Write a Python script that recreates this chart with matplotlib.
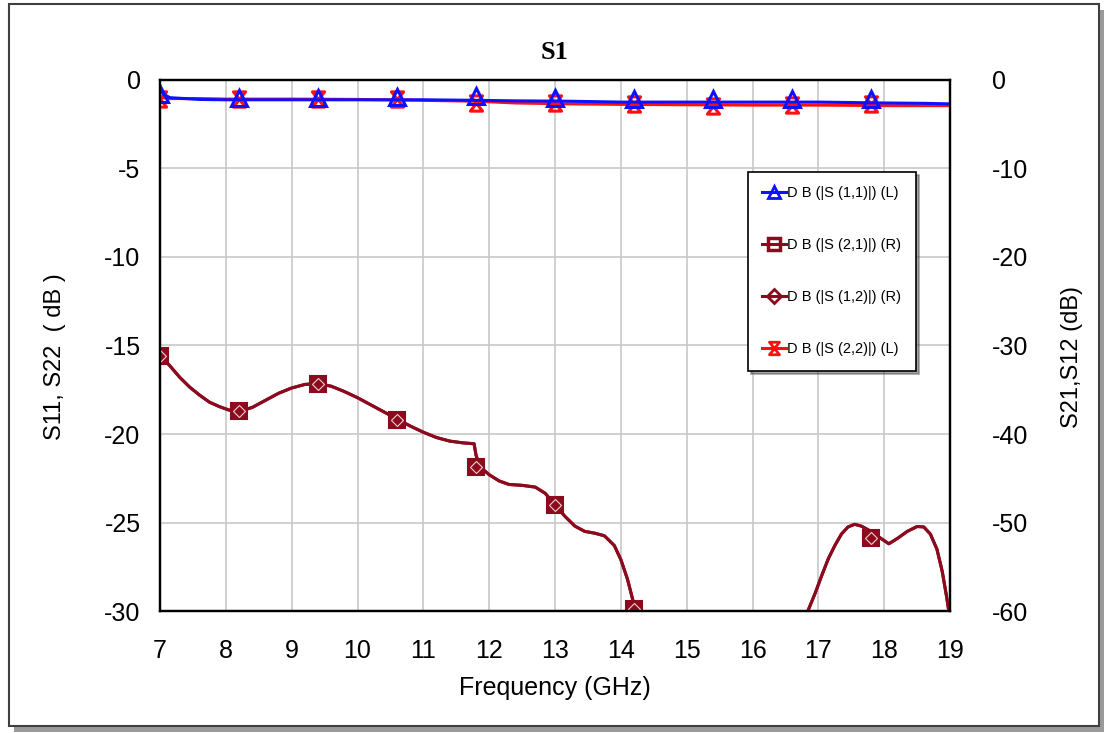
import matplotlib
matplotlib.use('Agg')
import matplotlib.pyplot as plt
from matplotlib.path import Path
from matplotlib.lines import Line2D
from matplotlib.patches import Rectangle

plt.rcParams['font.family'] = ['Liberation Sans', 'DejaVu Sans']
plt.rcParams['axes.unicode_minus'] = False

# left axis: S11 / S22 (dB)
freq_top = [7.0, 7.05, 7.15, 7.6, 8.0, 9.0, 10.0, 11.0, 11.8, 12.4, 13.2, 14.0, 15.0, 16.0, 17.0, 18.0, 18.6, 19.0]
s11 = [-0.5, -0.8, -1.0, -1.1, -1.12, -1.12, -1.12, -1.12, -1.15, -1.18, -1.2, -1.25, -1.25, -1.25, -1.25, -1.3, -1.32, -1.35]
s22 = [-0.9, -1.0, -1.05, -1.05, -1.08, -1.08, -1.1, -1.15, -1.2, -1.3, -1.35, -1.38, -1.4, -1.42, -1.42, -1.45, -1.45, -1.45]

# right axis: S21 / S12 (dB)
freq_s21 = [7.0, 7.15, 7.3, 7.45, 7.6, 7.75, 7.9, 8.05, 8.22, 8.4, 8.6, 8.8, 9.0, 9.2, 9.4, 9.6, 9.8,
            10.0, 10.2, 10.4, 10.6, 10.8, 11.0, 11.2, 11.4, 11.6, 11.77, 11.8, 11.86, 12.0, 12.15, 12.3,
            12.5, 12.7, 12.85, 13.0, 13.15, 13.3, 13.45, 13.6, 13.75, 13.9, 14.0, 14.1, 14.2, 14.3,
            14.6, 15.0, 15.5, 15.9, 16.3, 16.7, 16.84, 16.95, 17.05, 17.15, 17.25, 17.35, 17.45, 17.55,
            17.65, 17.8, 17.95, 18.07, 18.2, 18.35, 18.5, 18.6, 18.7, 18.8, 18.88, 18.95, 19.0]
s21 = [-31.1, -32.3, -33.6, -34.7, -35.6, -36.4, -36.9, -37.3, -37.4, -37.0, -36.2, -35.4, -34.8, -34.4, -34.3, -34.6, -35.2,
       -35.9, -36.7, -37.5, -38.3, -39.1, -39.8, -40.4, -40.8, -41.0, -41.1, -42.4, -43.7, -44.6, -45.3, -45.7,
       -45.8, -46.0, -46.7, -48.0, -49.3, -50.4, -51.0, -51.2, -51.5, -52.6, -54.2, -56.4, -59.3, -62.5,
       -65.0, -66.0, -64.0, -61.0, -64.0, -61.5, -60.0, -58.0, -56.0, -54.1, -52.6, -51.3, -50.5, -50.2,
       -50.4, -51.0, -51.8, -52.4, -51.8, -51.0, -50.45, -50.5, -51.3, -53.0, -55.5, -58.5, -61.0]
s12 = s21  # reciprocal, curves coincide

mk_freq = [7.0, 8.2, 9.4, 10.6, 11.8, 13.0, 14.2, 15.4, 16.6, 17.8]
s11_mk = [-0.8, -1.0, -1.0, -0.95, -0.9, -1.0, -1.05, -1.1, -1.05, -1.05]
s22_mk = [-1.05, -1.1, -1.1, -1.1, -1.3, -1.3, -1.35, -1.45, -1.4, -1.35]
s21_mk = [-31.2, -37.4, -34.3, -38.4, -43.7, -48.0, -59.8, -64.5, -62.0, -51.7]

xticks = list(range(7, 20))

hourglass = Path([(-0.8, 1), (0.8, 1), (-0.8, -1), (0.8, -1), (-0.8, 1)],
                 [Path.MOVETO, Path.LINETO, Path.LINETO, Path.LINETO, Path.CLOSEPOLY])

BLUE = '#1010ff'
RED = '#ff1010'
DRED = '#8b0a1e'

fig = plt.figure(figsize=(11.09, 7.33), dpi=100)

# outer frame with shadow
fig.patches.append(Rectangle((14 / 1109, 0.002), 1090 / 1109, 722 / 733, transform=fig.transFigure,
                             facecolor='#9a9a9a', edgecolor='none', zorder=-2))
fig.patches.append(Rectangle((9 / 1109, 7 / 733), 1090 / 1109, 722 / 733, transform=fig.transFigure,
                             facecolor='white', edgecolor='#404040', lw=1.5, zorder=-1))

ax = fig.add_axes([0.1443, 0.1664, 0.7124, 0.7245])
ax2 = ax.twinx()

ax.plot(freq_top, s22, color=RED, lw=2.2, zorder=3)
ax.plot(mk_freq, s22_mk, ls='none', marker=hourglass, ms=11, mfc='none', mec=RED, mew=2.2, zorder=3)
ax.plot(freq_top, s11, color=BLUE, lw=2.2, zorder=4)
ax.plot(mk_freq, s11_mk, ls='none', marker='^', ms=11, mfc='none', mec=BLUE, mew=2.2, zorder=4)

ax2.plot(freq_s21, s12, color=DRED, lw=2.2, solid_joinstyle='round')
ax2.plot(freq_s21, s21, color=DRED, lw=2.2, solid_joinstyle='round')
ax2.plot(mk_freq, s21_mk, ls='none', marker='s', ms=11, mfc=DRED, mec=DRED, mew=1.5)
ax2.plot(mk_freq, s21_mk, ls='none', marker='D', ms=6, mfc='none', mec='#f0d0d0', mew=0.8)

ax.set_xlim(7, 19)
ax.set_ylim(-30, 0)
ax2.set_ylim(-60, 0)
ax.set_xticks(xticks)
ax.set_yticks([0, -5, -10, -15, -20, -25, -30])
ax2.set_yticks([0, -10, -20, -30, -40, -50, -60])
ax.grid(True, color='#c8c8c8', lw=1.2)
ax.set_axisbelow(True)

ax.tick_params(axis='x', length=0, pad=20, labelsize=18)
ax.tick_params(axis='y', length=0, pad=14, labelsize=18)
ax2.tick_params(axis='y', length=0, pad=30, labelsize=18)
for a in (ax, ax2):
    for sp in a.spines.values():
        sp.set_linewidth(1.6)
        sp.set_color('black')

fig.text(0.5, 0.929, 'S1', ha='center', va='center', fontsize=19, fontweight='bold',
         family='Liberation Serif')
fig.text(0.5, 0.061, 'Frequency (GHz)', ha='center', va='center', fontsize=18)
fig.text(0.05, 0.513, 'S11, S22  ( dB )', ha='center', va='center', rotation=90, fontsize=17)
fig.text(0.967, 0.513, 'S21,S12 (dB)', ha='center', va='center', rotation=90, fontsize=17)

handles = [
    Line2D([], [], color=BLUE, lw=2.2, marker='^', ms=9, mfc='none', mec=BLUE, mew=2),
    Line2D([], [], color=DRED, lw=2.2, marker='s', ms=9, mfc='none', mec=DRED, mew=2.5),
    Line2D([], [], color=DRED, lw=2.2, marker='D', ms=7, mfc='none', mec=DRED, mew=2),
    Line2D([], [], color=RED, lw=2.2, marker=hourglass, ms=9, mfc='none', mec=RED, mew=2),
]
labels = ['D B (|S (1,1)|) (L)', 'D B (|S (2,1)|) (R)', 'D B (|S (1,2)|) (R)', 'D B (|S (2,2)|) (L)']
leg = ax2.legend(handles, labels, loc='upper left', bbox_to_anchor=(0.744, 0.827), borderaxespad=0,
                 fontsize=10.5, labelspacing=2.6, handlelength=1.6, handletextpad=0.1,
                 borderpad=1.0, fancybox=False, shadow=True, framealpha=1, edgecolor='black')
leg.get_frame().set_linewidth(1.2)

fig.savefig('out.png', dpi=100)
